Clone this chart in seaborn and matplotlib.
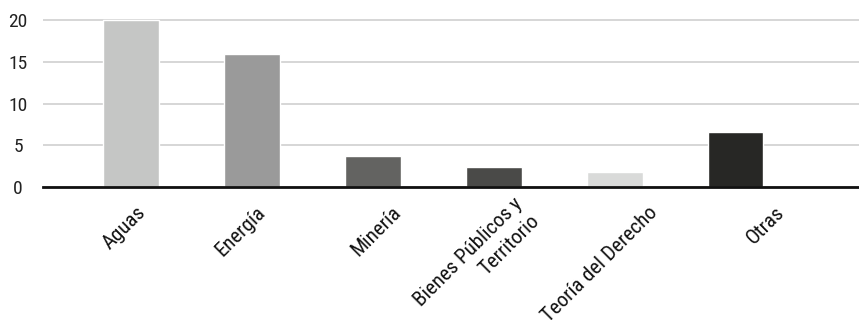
import matplotlib
matplotlib.use("Agg")
import matplotlib.pyplot as plt
import matplotlib.transforms as mtransforms
from matplotlib import font_manager
import seaborn as sns
import pandas as pd

categories = ["Aguas", "Energía", "Minería", "Bienes Públicos y\nTerritorio",
              "Teoría del Derecho", "Otras"]
values = [20, 16, 3.7, 2.4, 1.8, 6.6]
colors = ["#c5c6c5", "#9a9a9a", "#636361", "#4a4a48", "#d9dad9", "#272725"]
yticks = [0, 5, 10, 15, 20]

sns.set_theme(style="white")
names = {f.name for f in font_manager.fontManager.ttflist}
fam = "DejaVu Sans"
for cand in ["Roboto Condensed", "Liberation Sans Narrow", "Arial Narrow",
             "PT Sans Narrow", "Archivo Narrow"]:
    if cand in names:
        fam = cand
        break
plt.rcParams["font.family"] = [fam, "DejaVu Sans"]

df = pd.DataFrame({"cat": categories, "val": values})

fig = plt.figure(figsize=(8.59, 3.2), dpi=100)
ax = fig.add_axes([43 / 859, (320 - 187) / 320, 1 - 43 / 859, 171 / 320])
sns.barplot(data=df, x="cat", y="val", hue="cat", palette=colors, legend=False,
            width=0.46, ax=ax, saturation=1)

ax.set_ylim(0, 20.5)
ax.set_xlim(-0.727, 6.02)
ax.set_yticks(yticks)
ax.set_yticklabels([str(t) for t in yticks], fontsize=14, color="#222222")
for lab in ax.get_yticklabels():
    lab.set_horizontalalignment("center")
ax.tick_params(axis="y", length=0, pad=18)
ax.tick_params(axis="x", length=0, pad=16)
ax.yaxis.grid(True, color="#d0d0d0", linewidth=1.2)
ax.set_axisbelow(True)
for s in ["top", "right", "left"]:
    ax.spines[s].set_visible(False)
ax.spines["bottom"].set_color("#111111")
ax.spines["bottom"].set_linewidth(2)
ax.set_xlabel("")
ax.set_ylabel("")

label_shift_px = [12, 11, 25, 34, 40, 46]
ax.set_xticks(range(len(categories)))
ax.set_xticklabels(categories, rotation=45, ha="right", rotation_mode="anchor",
                   fontsize=15, color="#111111", multialignment="right",
                   linespacing=1.35)
for lab, dx in zip(ax.get_xticklabels(), label_shift_px):
    off = mtransforms.ScaledTranslation(dx / 100, 0, fig.dpi_scale_trans)
    lab.set_transform(lab.get_transform() + off)
    lab.set_verticalalignment("center")

fig.savefig("out.png", dpi=100)
